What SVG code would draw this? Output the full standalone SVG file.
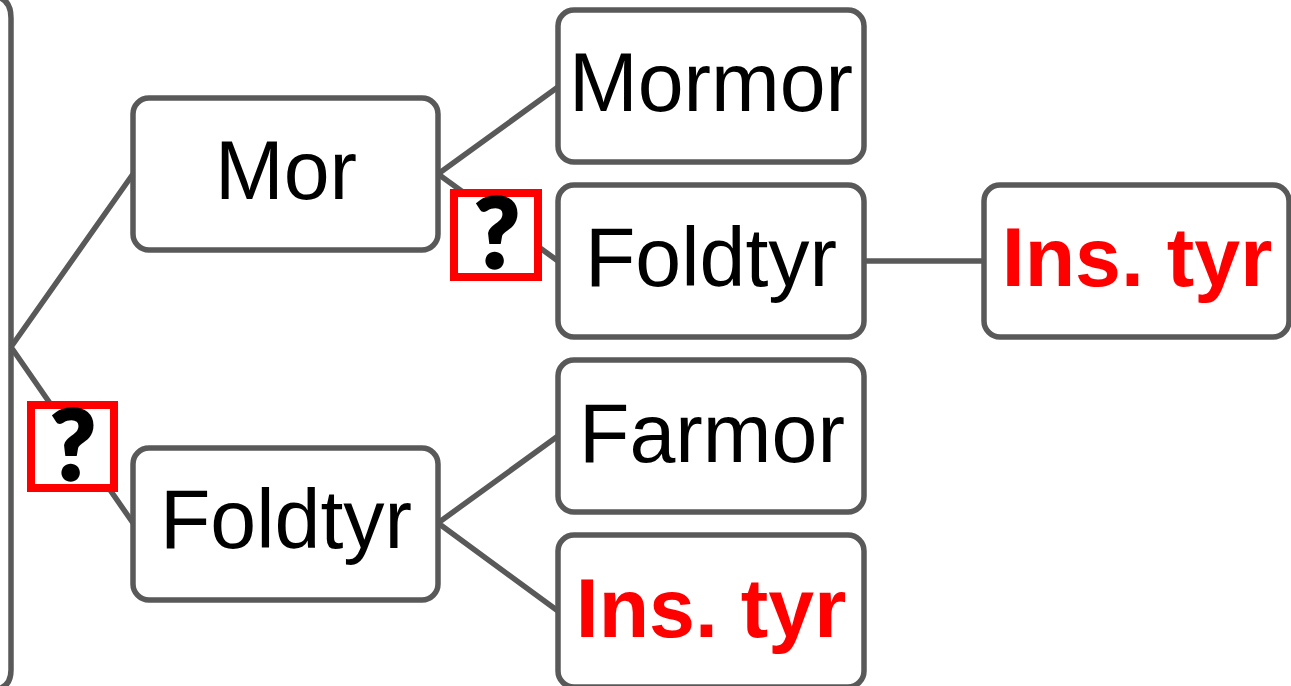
<svg xmlns="http://www.w3.org/2000/svg" width="1291" height="686" viewBox="0 0 1291 686">
<style>
.b{fill:#fff;stroke:#595959;stroke-width:5.5}
.c{fill:none;stroke:#595959;stroke-width:5.5}
text{font-family:"Liberation Sans",Arial,sans-serif;font-size:82.5px;text-anchor:middle;fill:#000}
.r{fill:#f00;font-weight:bold}
.q{fill:#fff;stroke:#f00;stroke-width:8}
.g{font-family:Lato,"Liberation Sans",sans-serif;font-size:98px;font-weight:900;stroke:#000;stroke-width:2.5}
</style>
<g id="connectors">
<path class="c" d="M-40 -4H-10Q11 -4 11 18V670Q11 690 -10 690"/>
<path class="c" d="M11 347L133 174M11 347L133 523M438 174L558 87M438 174L558 261M864 261H984M438 523L558 436M438 523L558 611"/>
</g>
<g id="n1"><rect class="b" x="133" y="98" width="305" height="152" rx="16"/><text x="286" y="199">Mor</text></g>
<g id="n2"><rect class="b" x="133" y="448" width="305" height="152" rx="16"/><text x="286" y="548">Foldtyr</text></g>
<g id="n3"><rect class="b" x="558" y="10" width="306" height="152" rx="16"/><text x="711" y="111">Mormor</text></g>
<g id="n4"><rect class="b" x="558" y="185" width="306" height="152" rx="16"/><text x="711" y="286">Foldtyr</text></g>
<g id="n5"><rect class="b" x="558" y="360" width="306" height="152" rx="16"/><text x="712" y="462">Farmor</text></g>
<g id="n6"><rect class="b" x="558" y="535" width="306" height="152" rx="16"/><text class="r" x="711" y="637">Ins. tyr</text></g>
<g id="n7"><rect class="b" x="984" y="185" width="305" height="152" rx="16"/><text class="r" x="1137" y="286">Ins. tyr</text></g>
<g id="q1"><rect class="q" x="454" y="193" width="84" height="84"/><text class="g" x="497" y="268">?</text></g>
<g id="q2"><rect class="q" x="31" y="405" width="83" height="83"/><text class="g" x="73" y="480">?</text></g>
</svg>
